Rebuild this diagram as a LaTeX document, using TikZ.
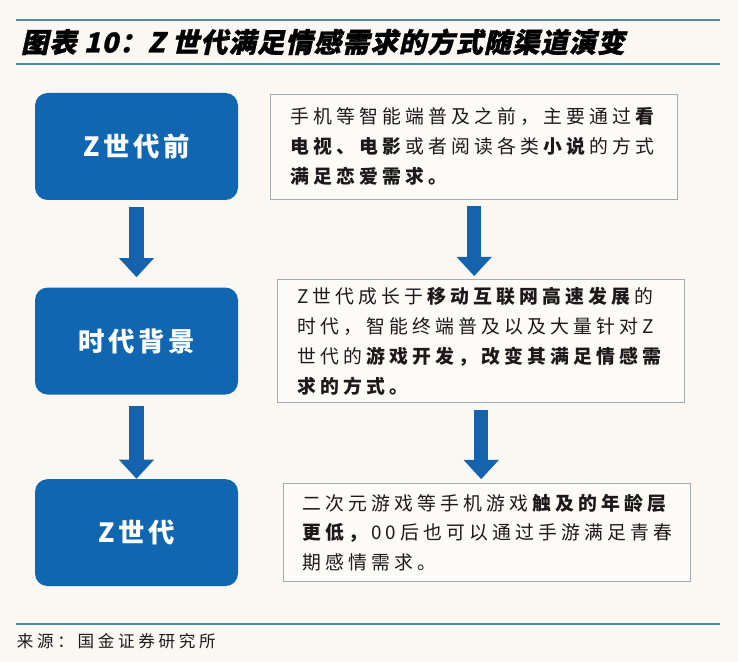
\documentclass[tikz,border=0pt]{standalone}
\usepackage{fontspec}
\setmainfont{Noto Sans CJK SC}
\newfontfamily\cjk{Noto Sans CJK SC}[LetterSpace=22]
\newfontfamily\cjkhead{Noto Sans CJK SC}[LetterSpace=14]
\newfontfamily\cjktitle{Noto Sans CJK SC}[FakeSlant=0.22, LetterSpace=4, BoldFeatures={FakeBold=1.2}]
\usetikzlibrary{arrows.meta,positioning}
\definecolor{Paper}{HTML}{FBF8F3}
\definecolor{BoxPaper}{HTML}{FDFBF8}
\definecolor{BoxBlue}{HTML}{1166B1}
\definecolor{ArrowBlue}{HTML}{1463AC}
\definecolor{RuleTeal}{HTML}{4A90A4}
\definecolor{EdgeGray}{HTML}{A3ABB3}
\definecolor{Ink}{HTML}{1A1A1A}

\begin{document}
\begin{tikzpicture}[
  stage/.style={rounded corners=9pt, fill=BoxBlue, minimum width=5.075cm, minimum height=2.675cm,
                inner sep=0pt, text=white, font=\cjkhead\bfseries\fontsize{18.8}{20}\selectfont},
  desc/.style={draw=EdgeGray, line width=0.6pt, fill=BoxPaper, minimum width=10.175cm,
               align=left, text=Ink, font=\cjk\fontsize{13.4}{21.3}\selectfont},
  down/.style={draw=ArrowBlue, line width=0.36cm, -{Triangle[width=0.85cm,length=0.48cm]}},
  rule/.style={draw=RuleTeal, line width=1.4pt},
  node distance=2.175cm
]
  %% page and rules
  \fill[Paper] (0,0) rectangle (18.45,16.55);
  \draw[rule] (0.4,16.05) -- (18.0,16.05);
  \draw[rule] (0.4,14.95) -- (18.0,14.95);
  \draw[rule] (0.4,0.95) -- (18.0,0.95);

  \node[anchor=west, text=black, font=\cjktitle\bfseries\fontsize{19.4}{20}\selectfont]
    (title) at (0.4,15.5) {图表 10：Z 世代满足情感需求的方式随渠道演变};

  %% Stage boxes (stacked left)
  \node[stage] (pre) at (3.4125,12.8875) {Z世代前};
  \node[stage, below=of pre]        (era) {时代背景};
  \node[stage, below=2.1cm of era]  (gen) {Z世代};

  %% Notes to the right of each stage
  \node[desc, minimum height=2.625cm, right=0.8cm of pre] (prenote)
    {手机等智能端普及之前，主要通过\textbf{看}\\
     \textbf{电视、电影}或者阅读各类\textbf{小说}的方式\\
     \textbf{满足恋爱需求。}};
  \node[desc, minimum height=3.075cm, right=0.975cm of era] (eranote)
    {Z世代成长于\textbf{移动互联网高速发展}的\\
     时代，智能终端普及以及大量针对Z\\
     世代的\textbf{游戏开发，改变其满足情感需}\\
     \textbf{求的方式。}};
  \node[desc, minimum height=2.45cm, right=1.125cm of gen] (gennote)
    {二次元游戏等手机游戏\textbf{触及的年龄层}\\
     \textbf{更低，}00后也可以通过手游满足青春\\
     期感情需求。};

  %% Arrows
  \draw[down] ([yshift=-0.175cm]pre.south) -- ([yshift=0.25cm]era.north);
  \draw[down] ([yshift=-0.275cm]era.south) -- (gen.north);
  \draw[down] ([yshift=-0.175cm]prenote.south) -- ([yshift=0.075cm]prenote.south |- eranote.north);
  \draw[down] ([yshift=-0.175cm]eranote.south) -- ([yshift=0.1cm]eranote.south |- gennote.north);

  \node[anchor=west, text=Ink, font=\cjk\fontsize{11.8}{14}\selectfont]
    (source) at (0.3,0.525) {来源：国金证券研究所};
\end{tikzpicture}
\end{document}
